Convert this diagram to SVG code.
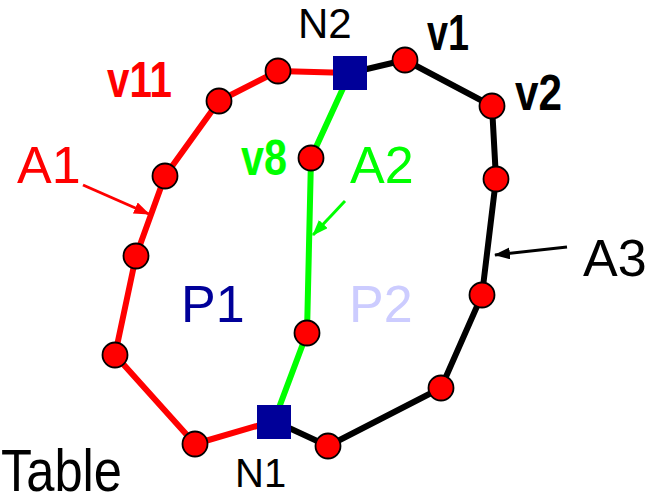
<svg xmlns="http://www.w3.org/2000/svg" width="660" height="495" viewBox="0 0 660 495">
<style>
.arc{fill:none;stroke-width:6;stroke-linejoin:round;stroke-linecap:round}
.v{fill:#ff0000;stroke:#000;stroke-width:1.8}
.n{fill:#000099}
.t{font-family:"Liberation Sans",Arial,sans-serif}
.b{font-family:"Liberation Sans",Arial,sans-serif;font-weight:bold;font-size:50px}
.lbl{font-size:52px}
</style>
<defs>
<marker id="ar" viewBox="0 0 16 12" refX="15" refY="6" markerWidth="16" markerHeight="12" orient="auto" markerUnits="userSpaceOnUse"><path d="M0,0L16,6L0,12z" fill="#ff0000"/></marker>
<marker id="ag" viewBox="0 0 16 12" refX="15" refY="6" markerWidth="16" markerHeight="12" orient="auto" markerUnits="userSpaceOnUse"><path d="M0,0L16,6L0,12z" fill="#00ff00"/></marker>
<marker id="ab" viewBox="0 0 16 12" refX="15" refY="6" markerWidth="16" markerHeight="12" orient="auto" markerUnits="userSpaceOnUse"><path d="M0,0L16,6L0,12z" fill="#000"/></marker>
</defs>
<rect width="660" height="495" fill="#fff"/>
<g id="connectors">
<polyline id="A3" class="arc" stroke="#000" points="350,73 405,60 492,106 496,179 482,295 441,388 328,446 274,421"/>
<polyline id="A1" class="arc" stroke="#ff0000" points="274,421 195,444 115,355 136,256 165,176 219,101 278,71 350,73"/>
<polyline id="A2" class="arc" stroke="#00ff00" stroke-width="5" points="274,421 307,333 311,158 350,73"/>
<line x1="83" y1="185" x2="149" y2="214" stroke="#ff0000" stroke-width="3" marker-end="url(#ar)"/>
<line x1="345" y1="201" x2="313" y2="235" stroke="#00ff00" stroke-width="3" marker-end="url(#ag)"/>
<line x1="567" y1="247" x2="495" y2="255" stroke="#000" stroke-width="3" marker-end="url(#ab)"/>
</g>
<g id="vertices">
<circle class="v" cx="405" cy="60" r="12.5"/>
<circle class="v" cx="492" cy="106" r="12.5"/>
<circle class="v" cx="496" cy="179" r="12.5"/>
<circle class="v" cx="482" cy="295" r="12.5"/>
<circle class="v" cx="441" cy="388" r="12.5"/>
<circle class="v" cx="328" cy="446" r="12.5"/>
<circle class="v" cx="195" cy="444" r="12.5"/>
<circle class="v" cx="115" cy="355" r="12.5"/>
<circle class="v" cx="136" cy="256" r="12.5"/>
<circle class="v" cx="165" cy="176" r="12.5"/>
<circle class="v" cx="219" cy="101" r="12.5"/>
<circle class="v" cx="278" cy="71" r="12.5"/>
<circle class="v" cx="311" cy="158" r="12.5"/>
<circle class="v" cx="307" cy="333" r="12.5"/>
</g>
<g id="N2"><rect class="n" x="333" y="56" width="34" height="34"/><text class="t" x="298" y="38" font-size="42">N2</text></g>
<g id="N1"><rect class="n" x="257" y="405" width="34" height="34"/><text class="t" x="235" y="487" font-size="40">N1</text></g>
<g id="labels">
<text class="b" x="107" y="97" fill="#ff0000" textLength="65" lengthAdjust="spacingAndGlyphs">v11</text>
<text class="b" x="241" y="175" fill="#00ff00" textLength="46" lengthAdjust="spacingAndGlyphs">v8</text>
<text class="b" x="427" y="50" fill="#000" textLength="42" lengthAdjust="spacingAndGlyphs">v1</text>
<text class="b" x="515" y="110" fill="#000" textLength="47" lengthAdjust="spacingAndGlyphs">v2</text>
<text class="t lbl" x="17" y="183" fill="#ff0000">A1</text>
<text class="t lbl" x="350" y="183" fill="#00ff00">A2</text>
<text class="t lbl" x="583" y="276" fill="#000">A3</text>
<text class="t lbl" x="181" y="322" fill="#000099">P1</text>
<text class="t lbl" x="349" y="322" fill="#ccccff">P2</text>
<text class="t" x="1" y="491" font-size="60" fill="#000" textLength="121" lengthAdjust="spacingAndGlyphs">Table</text>
</g>
</svg>
